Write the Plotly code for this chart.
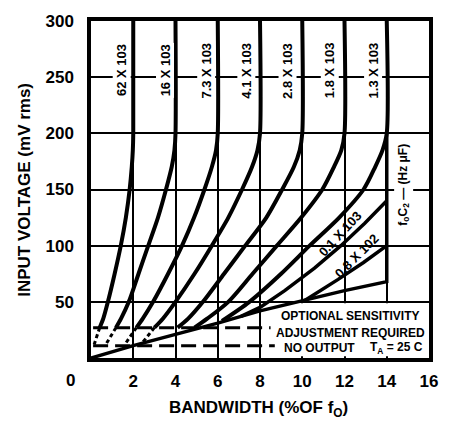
import plotly.graph_objects as go

# ---- data ----
x_ticks = [2, 4, 6, 8, 10, 12, 14, 16]
y_ticks = [50, 100, 150, 200, 250, 300]

curve_labels = ["62 X 103", "16 X 103", "7.3 X 103", "4.1 X 103",
                "2.8 X 103", "1.8 X 103", "1.3 X 103"]
label_x = [1.45, 3.5, 5.45, 7.35, 9.3, 11.3, 13.35]

c1_x = [2, 2, 1.98, 1.93, 1.83, 1.65, 1.41, 1.12, 0.80, 0.58, 0.41]
c1_y = [300, 200, 185, 170, 150, 125, 100, 75, 50, 35, 27]
c2_x = [4, 4, 3.95, 3.82, 3.55, 3.17, 2.71, 2.25, 1.79, 1.42, 1.18]
c2_y = [300, 200, 185, 170, 150, 125, 100, 75, 50, 35, 27]
c3_x = [6, 6, 5.92, 5.72, 5.37, 4.88, 4.31, 3.65, 2.94, 2.45, 2.15]
c3_y = [300, 200, 185, 170, 150, 125, 100, 75, 50, 35, 27]
c4_x = [8, 8, 7.88, 7.62, 7.15, 6.5, 5.72, 4.9, 4.0, 3.4, 3.0]
c4_y = [300, 200, 185, 170, 150, 125, 100, 75, 50, 35, 27]
c5_x = [10, 10, 9.88, 9.6, 9.05, 8.3, 7.3, 6.3, 5.3, 4.6, 4.1]
c5_y = [300, 200, 185, 170, 150, 125, 100, 75, 50, 35, 27]
c6_x = [12, 12, 11.85, 11.5, 10.95, 9.95, 8.8, 7.65, 6.5, 5.5, 4.9]
c6_y = [300, 200, 185, 170, 150, 125, 100, 75, 50, 35, 27]
c7_x = [14, 14, 13.8, 13.45, 12.9, 11.75, 10.35, 9.0, 7.5, 6.2]
c7_y = [300, 200, 185, 170, 150, 125, 100, 75, 50, 33]
c8_x = [14, 12.96, 11.83, 10.58, 9.17, 8.0, 7.1]
c8_y = [140, 120, 100, 80, 60, 45, 37]
c9_x = [14, 12.9, 11.7, 10.85, 10.1]
c9_y = [100, 85, 70, 60, 51]
bound_x = [0, 2, 4, 6, 8, 10, 12, 14, 14]
bound_y = [0, 11, 21, 31, 42, 51, 60, 68, 200]

# dashed continuations below the sensitivity line
d1_x = [0.41, 0.15]; d1_y = [27, 12]
d2_x = [1.18, 0.7]; d2_y = [27, 12]
d3_x = [2.15, 1.6]; d3_y = [27, 12]
d4_x = [3.0, 2.45]; d4_y = [27, 14]

adj_x = [0.1, 8.5]; adj_y = [27, 27]
noout_x = [0.1, 8.7]; noout_y = [11, 11]

FONT = "Liberation Sans, Arial, Helvetica, sans-serif"

fig = go.Figure()
for xs, ys in [(c1_x, c1_y), (c2_x, c2_y), (c3_x, c3_y), (c4_x, c4_y),
               (c5_x, c5_y), (c6_x, c6_y), (c7_x, c7_y)]:
    fig.add_trace(go.Scatter(x=xs, y=ys, mode="lines",
                             line=dict(color="black", width=4, shape="spline", smoothing=0.8),
                             hoverinfo="skip", showlegend=False))
for xs, ys in [(c8_x, c8_y), (c9_x, c9_y), (bound_x, bound_y)]:
    fig.add_trace(go.Scatter(x=xs, y=ys, mode="lines",
                             line=dict(color="black", width=3.5),
                             hoverinfo="skip", showlegend=False))
for xs, ys in [(d1_x, d1_y), (d2_x, d2_y), (d3_x, d3_y), (d4_x, d4_y)]:
    fig.add_trace(go.Scatter(x=xs, y=ys, mode="lines",
                             line=dict(color="black", width=3, dash="4px,3px"),
                             hoverinfo="skip", showlegend=False))
for xs, ys in [(adj_x, adj_y), (noout_x, noout_y)]:
    fig.add_trace(go.Scatter(x=xs, y=ys, mode="lines",
                             line=dict(color="black", width=3, dash="15px,7px"),
                             hoverinfo="skip", showlegend=False))

annotations = []
for lx, txt in zip(label_x, curve_labels):
    annotations.append(dict(x=lx, y=256, xref="x", yref="y", text=txt, textangle=-90,
                            showarrow=False, bgcolor="white", borderpad=1,
                            font=dict(family=FONT, size=13, color="black", weight="bold")))
annotations.append(dict(x=11.8, y=111, xref="x", yref="y", text="0.1 X 103", textangle=-47,
                        showarrow=False, font=dict(family=FONT, size=13, color="black", weight="bold")))
annotations.append(dict(x=12.6, y=91, xref="x", yref="y", text="0.8 X 102", textangle=-45,
                        showarrow=False, font=dict(family=FONT, size=13, color="black", weight="bold")))
annotations.append(dict(x=14.8, y=154, xref="x", yref="y",
                        text="f<sub>o</sub>C<sub>2</sub> — (Hz μF)", textangle=-90,
                        showarrow=False, bgcolor="white", borderpad=1,
                        font=dict(family=FONT, size=12, color="black", weight="bold")))
annotations.append(dict(x=8.9, y=37.6, xref="x", yref="y", xanchor="left",
                        text="OPTIONAL SENSITIVITY", showarrow=False,
                        font=dict(family=FONT, size=12, color="black", weight="bold")))
annotations.append(dict(x=8.68, y=22.7, xref="x", yref="y", xanchor="left",
                        text="ADJUSTMENT REQUIRED", showarrow=False,
                        font=dict(family=FONT, size=12, color="black", weight="bold")))
annotations.append(dict(x=9.05, y=8.7, xref="x", yref="y", xanchor="left",
                        text="NO OUTPUT", showarrow=False,
                        font=dict(family=FONT, size=12, color="black", weight="bold")))
annotations.append(dict(x=15.8, y=8.7, xref="x", yref="y", xanchor="right",
                        text="T<sub>A</sub> = 25 C", showarrow=False,
                        font=dict(family=FONT, size=12, color="black", weight="bold")))
annotations.append(dict(x=-0.0605, y=-0.067, xref="paper", yref="paper", text="0",
                        xanchor="center", yanchor="middle", showarrow=False,
                        font=dict(family=FONT, size=17, color="black", weight="bold")))
annotations.append(dict(x=-0.199, y=0.4985, xref="paper", yref="paper",
                        xanchor="center", yanchor="middle",
                        text="INPUT VOLTAGE (mV rms)", textangle=-90, showarrow=False,
                        font=dict(family=FONT, size=17, color="black", weight="bold")))
annotations.append(dict(x=0.496, y=-0.152, xref="paper", yref="paper",
                        xanchor="center", yanchor="middle",
                        text="BANDWIDTH (%OF f<sub>O</sub>)", showarrow=False,
                        font=dict(family=FONT, size=17, color="black", weight="bold")))

shapes = [dict(type="rect", xref="x", yref="y", x0=8.1, x1=15.9, y0=1.5, y1=48.8,
               fillcolor="white", line=dict(width=0), layer="between")]

axis_common = dict(showgrid=True, gridcolor="black", gridwidth=1.8, showline=True,
                   mirror=True, linecolor="black", linewidth=3.5, zeroline=False,
                   ticks="", fixedrange=True,
                   tickfont=dict(family=FONT, size=17, color="black", weight="bold"))

fig.update_layout(
    width=450, height=431,
    margin=dict(l=91, r=12, t=15, b=73),
    paper_bgcolor="white", plot_bgcolor="white",
    xaxis=dict(range=[0, 16], tickvals=x_ticks, ticktext=[str(v) for v in x_ticks],
               ticklabelstandoff=5, **axis_common),
    yaxis=dict(range=[0, 300], tickvals=y_ticks, ticktext=[str(v) for v in y_ticks],
               ticklabelstandoff=10, **axis_common),
    annotations=annotations, shapes=shapes, showlegend=False, hovermode=False,
)

# remove the browser's default page margin so the figure sits at the window origin
fig.write_html("out.html", config={"displayModeBar": False},
               post_script="document.body.style.margin='0';document.body.style.overflow='hidden';")
